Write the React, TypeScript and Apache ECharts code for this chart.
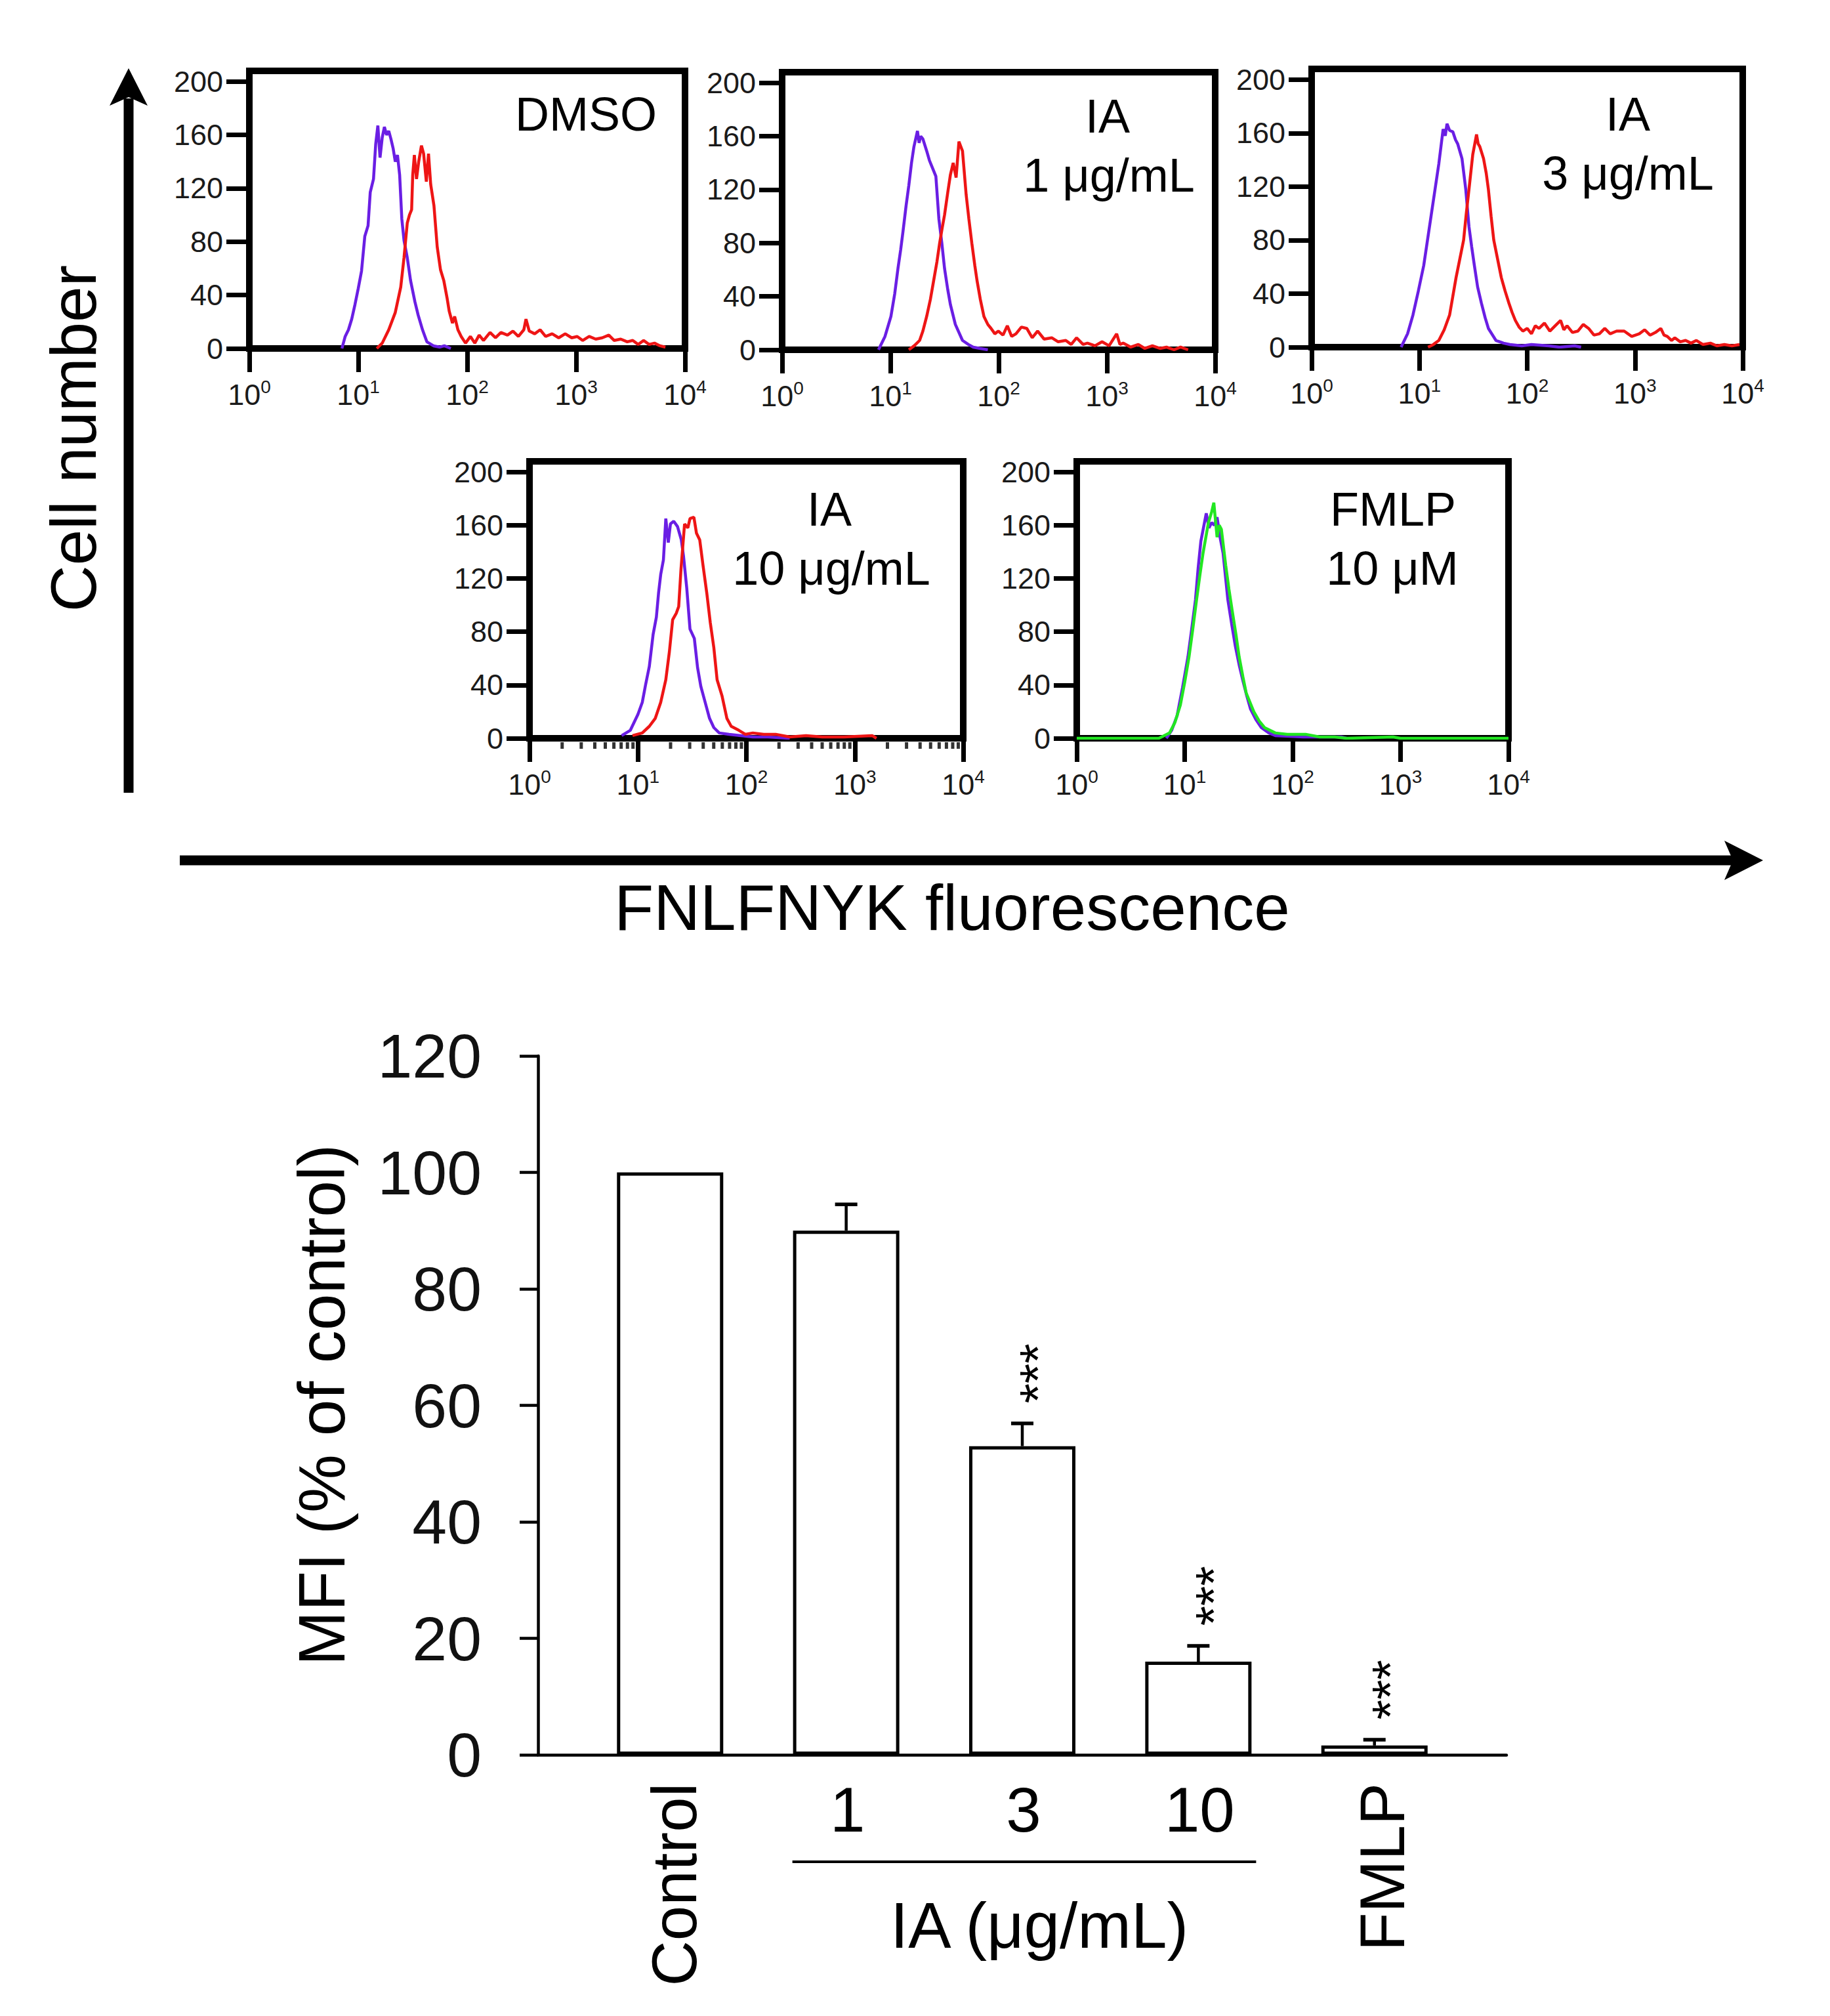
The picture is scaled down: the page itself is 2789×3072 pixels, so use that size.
import React, { useEffect, useRef } from 'react';
import * as echarts from 'echarts';

const FONT = "'Liberation Sans', Arial, Helvetica, sans-serif";
const PURPLE = '#6a1ee4';
const RED = '#ee1515';
const GREEN = '#22e622';

// ---------- histogram data: [log10 fluorescence, cell count] ----------
const dmsoPurple = [
  [0.85, 0], [0.88, 9], [0.91, 14], [0.94, 22], [0.97, 33], [1.0, 45], [1.03, 58], [1.06, 84], [1.09, 92],
  [1.11, 117], [1.14, 127], [1.16, 153], [1.18, 167], [1.2, 143], [1.22, 158], [1.24, 166], [1.26, 160],
  [1.28, 163], [1.3, 157], [1.32, 150], [1.34, 140], [1.36, 145], [1.38, 130], [1.4, 97], [1.42, 81],
  [1.45, 68], [1.48, 51], [1.52, 35], [1.55, 25], [1.59, 14], [1.63, 5], [1.69, 2], [1.75, 1], [1.79, 2], [1.85, 0],
];
const dmsoRed = [
  [1.17, 0], [1.22, 4], [1.28, 14], [1.34, 27], [1.39, 46], [1.42, 68], [1.45, 94], [1.47, 100], [1.49, 104],
  [1.5, 130], [1.515, 145], [1.535, 127], [1.555, 140], [1.58, 152], [1.6, 146], [1.625, 125], [1.645, 146],
  [1.665, 123], [1.695, 107], [1.725, 76], [1.755, 59], [1.785, 51], [1.815, 38], [1.835, 28], [1.865, 19],
  [1.885, 24], [1.915, 14], [1.945, 9], [1.985, 4], [2.03, 9], [2.07, 4], [2.11, 10], [2.15, 6], [2.21, 12],
  [2.26, 8], [2.31, 12], [2.37, 10], [2.42, 13], [2.47, 9], [2.52, 14], [2.54, 22], [2.57, 13], [2.62, 11],
  [2.67, 14], [2.72, 9], [2.78, 11], [2.84, 8], [2.9, 11], [2.96, 8], [3.01, 9], [3.06, 6], [3.12, 9],
  [3.18, 7], [3.24, 8], [3.3, 10], [3.35, 6], [3.41, 7], [3.47, 5], [3.52, 6], [3.57, 3], [3.62, 6],
  [3.67, 3], [3.72, 4], [3.77, 2], [3.82, 1],
];
const ia1Purple = [
  [0.89, 0], [0.95, 10], [1.005, 25], [1.04, 42], [1.07, 61], [1.095, 75], [1.117, 89], [1.145, 108],
  [1.17, 123], [1.195, 140], [1.217, 152], [1.25, 164], [1.265, 155], [1.28, 160], [1.3, 158], [1.335, 149],
  [1.36, 142], [1.38, 138], [1.42, 130], [1.448, 98], [1.475, 80], [1.5, 61], [1.53, 45], [1.554, 34],
  [1.6, 19], [1.666, 7], [1.72, 4], [1.765, 2], [1.83, 1], [1.9, 0],
];
const ia1Red = [
  [1.17, 0], [1.22, 3], [1.27, 7], [1.3, 14], [1.335, 25], [1.37, 38], [1.4, 52], [1.43, 66], [1.455, 80],
  [1.48, 92], [1.5, 101], [1.53, 118], [1.554, 131], [1.58, 140], [1.607, 129], [1.633, 156], [1.666, 149],
  [1.7, 116], [1.725, 98], [1.752, 80], [1.78, 63], [1.8, 52], [1.83, 38], [1.864, 25], [1.9, 19],
  [1.93, 16], [1.965, 12], [1.997, 14], [2.04, 11], [2.08, 18], [2.12, 10], [2.16, 12], [2.21, 17],
  [2.26, 16], [2.31, 9], [2.36, 14], [2.42, 8], [2.49, 9], [2.55, 6], [2.62, 7], [2.67, 4], [2.72, 9],
  [2.78, 4], [2.82, 5], [2.89, 3], [2.955, 6], [3.02, 3], [3.09, 12], [3.12, 4], [3.15, 5], [3.22, 2],
  [3.29, 4], [3.35, 1], [3.42, 3], [3.49, 1], [3.55, 2], [3.62, 0], [3.68, 2], [3.75, 0],
];
const ia3Purple = [
  [0.83, 0], [0.89, 10], [0.94, 24], [0.99, 42], [1.04, 61], [1.075, 80], [1.11, 99], [1.145, 118],
  [1.18, 137], [1.2, 150], [1.22, 163], [1.24, 158], [1.256, 167], [1.28, 162], [1.31, 161], [1.335, 155],
  [1.355, 152], [1.395, 141], [1.43, 118], [1.46, 90], [1.485, 75], [1.51, 61], [1.54, 45], [1.575, 33],
  [1.61, 22], [1.64, 14], [1.71, 5], [1.78, 3], [1.84, 2], [1.95, 1], [2.04, 2], [2.2, 1], [2.3, 0],
  [2.44, 1], [2.5, 0],
];
const ia3Red = [
  [1.08, 0], [1.13, 2], [1.18, 5], [1.23, 13], [1.28, 24], [1.31, 38], [1.34, 52], [1.375, 66], [1.41, 80],
  [1.435, 100], [1.46, 118], [1.495, 144], [1.53, 159], [1.545, 152], [1.56, 150], [1.595, 141],
  [1.62, 130], [1.64, 118], [1.665, 98], [1.69, 80], [1.725, 66], [1.76, 52], [1.795, 42], [1.83, 33],
  [1.86, 26], [1.89, 20], [1.925, 15], [1.96, 12], [2.0, 14], [2.04, 10], [2.075, 16], [2.11, 14],
  [2.16, 18], [2.21, 12], [2.26, 16], [2.31, 20], [2.34, 13], [2.37, 16], [2.42, 11], [2.47, 12],
  [2.52, 17], [2.57, 14], [2.62, 9], [2.67, 10], [2.72, 14], [2.77, 10], [2.83, 12], [2.9, 12], [2.97, 8],
  [3.04, 10], [3.09, 13], [3.14, 9], [3.19, 11], [3.24, 14], [3.27, 9], [3.3, 8], [3.34, 5], [3.37, 7],
  [3.42, 4], [3.47, 5], [3.52, 3], [3.57, 5], [3.63, 2], [3.7, 3], [3.76, 1], [3.83, 2], [3.9, 1], [3.97, 2],
];
const ia10Purple = [
  [0.85, 2], [0.93, 6], [1.0, 18], [1.04, 27], [1.07, 40], [1.105, 54], [1.14, 78], [1.17, 91], [1.19, 109],
  [1.21, 123], [1.235, 134], [1.257, 165], [1.28, 147], [1.3, 161], [1.33, 163], [1.365, 159], [1.4, 149],
  [1.42, 137], [1.45, 113], [1.48, 82], [1.52, 75], [1.55, 53], [1.58, 39], [1.62, 27], [1.66, 15],
  [1.7, 8], [1.75, 4], [1.84, 3], [1.95, 2], [2.06, 1], [2.2, 1], [2.4, 0],
];
const ia10Red = [
  [0.95, 2], [1.04, 4], [1.105, 9], [1.16, 15], [1.21, 27], [1.257, 44], [1.29, 65], [1.32, 89],
  [1.354, 94], [1.376, 99], [1.397, 127], [1.43, 161], [1.46, 158], [1.48, 165], [1.516, 166], [1.54, 154],
  [1.57, 149], [1.6, 130], [1.635, 109], [1.667, 87], [1.7, 68], [1.73, 44], [1.775, 32], [1.82, 15],
  [1.86, 9], [1.93, 6], [1.99, 3], [2.06, 4], [2.16, 3], [2.27, 3], [2.4, 1], [2.55, 2], [2.7, 1],
  [2.9, 1], [3.16, 2], [3.2, 0],
];
const fmlpPurple = [
  [0.83, 0], [0.88, 6], [0.93, 17], [0.98, 38], [1.03, 61], [1.065, 82], [1.1, 104], [1.125, 128],
  [1.15, 148], [1.2, 169], [1.225, 158], [1.25, 162], [1.275, 160], [1.3, 166], [1.33, 150], [1.356, 139],
  [1.38, 120], [1.4, 104], [1.435, 86], [1.47, 69], [1.505, 55], [1.54, 43], [1.575, 32], [1.61, 22],
  [1.66, 14], [1.71, 8], [1.78, 4], [1.84, 2], [2.1, 1], [2.45, 1], [2.5, 0],
];
const fmlpGreen = [
  [0, 0], [0.76, 0], [0.81, 2], [0.86, 4], [0.91, 12], [0.96, 25], [1.0, 42], [1.04, 61], [1.075, 82],
  [1.11, 104], [1.14, 122], [1.17, 139], [1.22, 162], [1.25, 170], [1.27, 177], [1.3, 151], [1.32, 160],
  [1.34, 157], [1.38, 130], [1.41, 112], [1.44, 96], [1.475, 78], [1.505, 61], [1.54, 46], [1.57, 34],
  [1.64, 20], [1.69, 13], [1.74, 8], [1.84, 4], [1.95, 3], [2.12, 3], [2.25, 1], [2.39, 1], [2.5, 0],
  [2.93, 1], [3.0, 0], [4, 0],
];

const histYTicks = [0, 40, 80, 120, 160, 200];
const minorFactors = [2, 3, 4, 5, 6, 7, 8, 9];
const minorDecades = [0, 1, 2, 3];

const panelLabels = [['DMSO'], ['IA', '1 μg/mL'], ['IA', '3 μg/mL'], ['IA', '10 μg/mL'], ['FMLP', '10 μM']];
const panelSeries = [
  [{ data: dmsoPurple, color: PURPLE }, { data: dmsoRed, color: RED }],
  [{ data: ia1Purple, color: PURPLE }, { data: ia1Red, color: RED }],
  [{ data: ia3Purple, color: PURPLE }, { data: ia3Red, color: RED }],
  [{ data: ia10Purple, color: PURPLE }, { data: ia10Red, color: RED }],
  [{ data: fmlpPurple, color: PURPLE }, { data: fmlpGreen, color: GREEN }],
];

// ---------- bar chart data ----------
const barCategories = ['Control', '1', '3', '10', 'FMLP'];
const barValues = [100, 90, 53, 16, 1.6];
const barErrors = [0, 4.5, 3.9, 2.7, 1.0];
const barSignificant = [false, false, true, true, true];
const barYMax = 120;
const barYInterval = 20;

// ---------- layout (pixels) ----------
const panelBoxes = [
  { left: 380, top: 108, width: 664, height: 423 },
  { left: 1192, top: 110, width: 660, height: 423 },
  { left: 1999, top: 105, width: 657, height: 424 },
  { left: 807, top: 703, width: 661, height: 422 },
  { left: 1641, top: 703, width: 658, height: 422 },
];
const panelTextPos = [
  [[893, 174]],
  [[1688, 177], [1690, 267]],
  [[2481, 174], [2481, 264]],
  [[1264, 776], [1267, 866]],
  [[2123, 776], [2122, 866]],
];
const barBox = { left: 820, top: 1609, width: 1476, height: 1065 };

function txt(text: string, x: number, y: number, size: number, opts: any = {}) {
  const align = opts.align || 'center';
  return {
    type: 'text',
    x,
    y,
    rotation: opts.rotation || 0,
    z: 100,
    style: {
      text,
      fontSize: size,
      fontFamily: FONT,
      fill: opts.fill || '#000',
      align,
      textAlign: align,
      verticalAlign: 'middle',
      textVerticalAlign: 'middle',
    },
  };
}

export default function App() {
  const ref = useRef<HTMLDivElement>(null);

  useEffect(() => {
    document.body.style.margin = '0';
    document.body.style.overflow = 'hidden';
    const chart = echarts.init(ref.current!, undefined, { renderer: 'svg', width: 2789, height: 3072 });

    const grids: any[] = panelBoxes.map((b) => ({
      ...b,
      show: true,
      borderColor: '#000',
      borderWidth: 10,
      backgroundColor: 'rgba(0,0,0,0)',
      containLabel: false,
    }));
    grids.push({ ...barBox, show: false, containLabel: false });

    const xAxes: any[] = panelBoxes.map((_, i) => ({
      gridIndex: i,
      type: 'value',
      min: 0,
      max: 4,
      interval: 1,
      splitLine: { show: false },
      axisLine: { show: true, onZero: false, lineStyle: { color: '#000', width: 10 } },
      axisTick: { show: true, length: 36, lineStyle: { color: '#000', width: 7 } },
      axisLabel: {
        margin: 44,
        formatter: (v: number) => `{b|10}{s|${Math.round(v)}}`,
        rich: {
          b: { fontSize: 45, fontFamily: FONT, color: '#1a1a1a', lineHeight: 52 },
          s: { fontSize: 28, fontFamily: FONT, color: '#1a1a1a', verticalAlign: 'top' },
        },
      },
    }));
    xAxes.push({
      gridIndex: 5,
      type: 'value',
      min: 0.25,
      max: 5.75,
      splitLine: { show: false },
      axisLine: { show: true, onZero: false, lineStyle: { color: '#000', width: 4.5 } },
      axisTick: { show: false },
      axisLabel: { show: false },
    });

    const yAxes: any[] = panelBoxes.map((_, i) => ({
      gridIndex: i,
      type: 'value',
      min: 0,
      max: 208,
      splitLine: { show: false },
      axisLine: { show: true, lineStyle: { color: '#000', width: 9 } },
      axisTick: { show: true, length: 35, customValues: histYTicks, lineStyle: { color: '#000', width: 7 } },
      axisLabel: {
        customValues: histYTicks,
        margin: 40,
        fontSize: 45,
        fontFamily: FONT,
        color: '#1a1a1a',
      },
    }));
    yAxes.push({
      gridIndex: 5,
      type: 'value',
      min: 0,
      max: barYMax,
      interval: barYInterval,
      splitLine: { show: false },
      axisLine: { show: true, lineStyle: { color: '#000', width: 4.5 } },
      axisTick: { show: true, length: 28, lineStyle: { color: '#000', width: 4.5 } },
      axisLabel: { margin: 86, fontSize: 95, fontFamily: FONT, color: '#111' },
    });

    const series: any[] = [];
    panelSeries.forEach((list, i) => {
      list.forEach((s) => {
        series.push({
          type: 'line',
          xAxisIndex: i,
          yAxisIndex: i,
          data: s.data,
          showSymbol: false,
          symbol: 'none',
          silent: true,
          z: 5,
          lineStyle: { color: s.color, width: 4.5 },
          itemStyle: { color: s.color },
        });
      });
    });

    const minorPositions: number[][] = [];
    minorDecades.forEach((d) => minorFactors.forEach((f) => minorPositions.push([d + Math.log10(f), 0])));
    series.push({
      type: 'scatter',
      xAxisIndex: 3,
      yAxisIndex: 3,
      data: minorPositions,
      symbol: 'rect',
      symbolSize: [5, 10],
      symbolOffset: [0, 11],
      clip: false,
      silent: true,
      itemStyle: { color: '#000' },
    });

    series.push({
      type: 'bar',
      xAxisIndex: 5,
      yAxisIndex: 5,
      data: barValues.map((v, i) => [i + 1, v]),
      barWidth: 162,
      silent: true,
      itemStyle: { color: '#fff', borderColor: '#000', borderWidth: 5 },
    });

    series.push({
      type: 'custom',
      xAxisIndex: 5,
      yAxisIndex: 5,
      clip: false,
      silent: true,
      z: 10,
      data: barValues.map((v, i) => [i + 1, v, barErrors[i], barSignificant[i] ? 1 : 0]),
      renderItem: (params: any, api: any) => {
        const x = api.value(0);
        const v = api.value(1);
        const e = api.value(2);
        const s = api.value(3);
        const children: any[] = [];
        if (e > 0) {
          const base = api.coord([x, v]);
          const top = api.coord([x, v + e]);
          children.push({
            type: 'line',
            shape: { x1: base[0], y1: base[1], x2: top[0], y2: top[1] },
            style: { stroke: '#000', lineWidth: 4.5 },
          });
          children.push({
            type: 'line',
            shape: { x1: top[0] - 17, y1: top[1], x2: top[0] + 17, y2: top[1] },
            style: { stroke: '#000', lineWidth: 5.5 },
          });
          if (s) {
            children.push({
              type: 'text',
              x: top[0] + 24,
              y: top[1] - 76,
              rotation: Math.PI / 2,
              style: {
                text: '***',
                fontSize: 78,
                fontFamily: FONT,
                fill: '#000',
                align: 'center',
                verticalAlign: 'middle',
              },
            });
          }
        }
        return { type: 'group', children };
      },
    });

    chart.setOption({
      animation: false,
      backgroundColor: '#fff',
      grid: grids,
      xAxis: xAxes,
      yAxis: yAxes,
      series,
    });

    const px = (v: number) => chart.convertToPixel({ xAxisIndex: 5 }, v) as number;

    const graphics: any[] = [];
    // big axes arrows
    graphics.push({ type: 'line', shape: { x1: 196, y1: 1208, x2: 196, y2: 150 }, style: { stroke: '#000', lineWidth: 15 } });
    graphics.push({ type: 'polygon', shape: { points: [[196, 104], [167, 161], [196, 148], [225, 161]] }, style: { fill: '#000' } });
    graphics.push({ type: 'line', shape: { x1: 274, y1: 1311, x2: 2645, y2: 1311 }, style: { stroke: '#000', lineWidth: 15 } });
    graphics.push({ type: 'polygon', shape: { points: [[2687, 1311], [2628, 1281], [2641, 1311], [2628, 1341]] }, style: { fill: '#000' } });
    graphics.push(txt('Cell number', 112, 668, 98, { rotation: Math.PI / 2 }));
    graphics.push(txt('FNLFNYK fluorescence', 1451, 1383, 98));

    // panel annotations
    panelLabels.forEach((lines, i) => {
      lines.forEach((t, j) => {
        const p = panelTextPos[i][j];
        graphics.push(txt(t, p[0], p[1], 72));
      });
    });

    // bar chart texts
    graphics.push(txt('MFI (% of control)', 490, 2141, 100, { rotation: Math.PI / 2 }));
    barCategories.forEach((c, i) => {
      const x = px(i + 1);
      if (c === 'Control' || c === 'FMLP') {
        graphics.push(txt(c, x + (c === 'Control' ? 6 : 12), 2717, 96, { rotation: Math.PI / 2, align: 'right' }));
      } else {
        graphics.push(txt(c, x + 2, 2757, 96));
      }
    });
    graphics.push({
      type: 'line',
      shape: { x1: px(2) - 82, y1: 2837, x2: px(4) + 88, y2: 2837 },
      style: { stroke: '#000', lineWidth: 4 },
    });
    graphics.push(txt('IA (μg/mL)', px(3) + 26, 2934, 98));

    chart.setOption({ graphic: { elements: graphics } });

    return () => {
      chart.dispose();
    };
  }, []);

  return <div ref={ref} style={{ width: 2789, height: 3072 }} />;
}
